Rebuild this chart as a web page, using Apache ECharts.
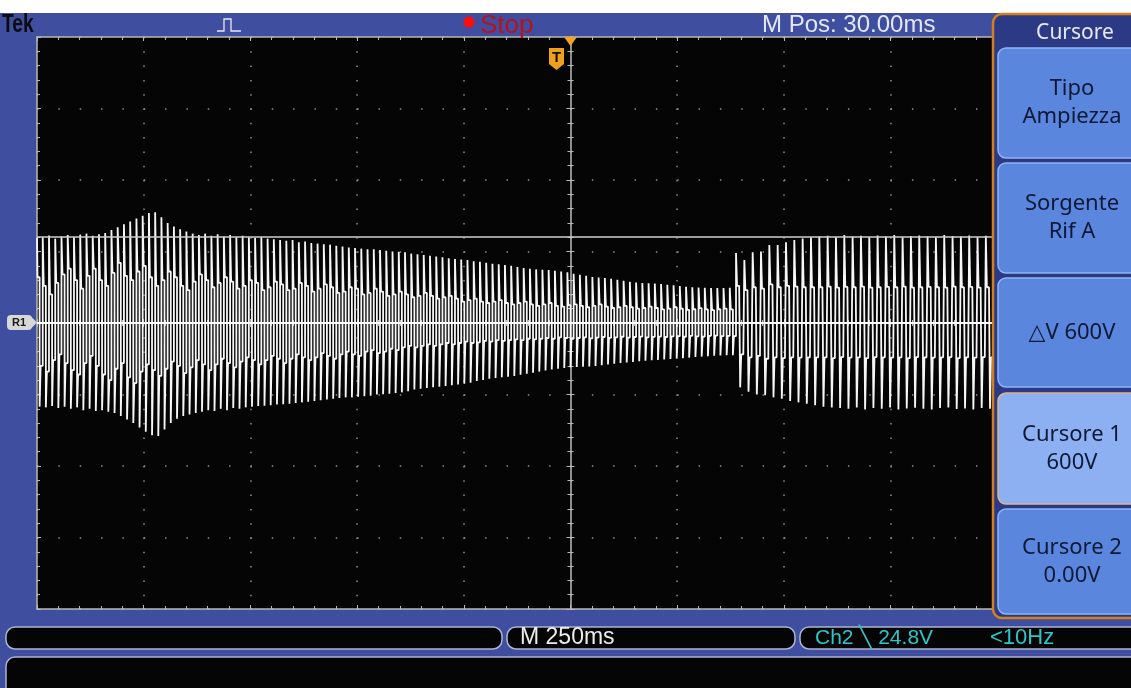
<!DOCTYPE html>
<html>
<head>
<meta charset="utf-8">
<script src="https://cdn.jsdelivr.net/npm/echarts@6/dist/echarts.min.js"></script>
<style>
html,body{margin:0;padding:0;background:#ffffff;}
#c{width:1131px;height:688px;}
</style>
</head>
<body>
<div id="c"></div>
<script>
// ---- Waveform data (per cycle, volts; Ref R1, 500 V/div, 250 ms/div) ----
// Section A: before the step (about 0 - 1.64 s on screen)
const posPeakA = [595,600,612,590,605,615,600,618,625,610,620,630,
 650,670,690,710,730,750,770,
 775,740,
 700,675,655,640,625,
 615,625,610,620,605,615,600,610,600,595,600,590,
 585,580,575,580,565,570,560,555,550,548,540,535,
 528,525,520,515,515,510,505,500,498,495,
 485,480,476,470,465,460,452,448,444,440,
 432,428,422,
 415,410,405,400,392,385,380,375,372,370,365,360,355,
 345,338,330,322,318,314,310,303,295,288,283,280,278,
 276,272,268,264,258,254,250,248,246,245,244,244,246];
const negPeakA = [-585,-590,-580,-595,-585,-600,-590,-610,-600,-615,-610,-620,
 -630,-650,-675,-700,-730,-760,-785,
 -790,-745,
 -700,-670,-650,-640,-630,
 -620,-610,-615,-600,-610,-595,-600,-590,-585,-580,-578,-575,
 -570,-568,-565,-560,-555,-550,-545,-540,-535,-530,-525,-520,
 -520,-515,-512,-508,-500,-498,-495,-490,-485,-478,
 -465,-460,-455,-450,-445,-440,-435,-430,-425,-418,
 -405,-398,-390,
 -385,-380,-376,-370,-362,-355,-348,-340,-332,-325,-320,-315,-310,
 -308,-306,-304,-300,-296,-290,-285,-280,-276,-272,-268,-264,-260,
 -258,-255,-252,-249,-246,-242,-238,-235,-232,-229,-227,-225,-226];
const posMidA = [320,260,200,280,340,380,300,240,330,380,300,260,
 350,420,330,300,360,400,320,
 260,300,
 360,320,260,230,290,
 340,300,250,280,320,290,240,260,300,280,230,250,
 290,270,230,240,280,260,220,240,270,250,210,220,
 250,240,200,210,240,220,190,200,220,200,
 180,190,210,190,170,180,190,170,150,160,
 170,150,140,
 150,160,140,130,140,150,130,120,130,140,120,115,125,
 130,120,110,120,130,115,105,110,120,110,100,105,115,
 105,95,100,110,100,92,96,104,95,90,96,100,95];
const negMidA = [-300,-340,-260,-220,-280,-330,-360,-280,-230,-300,-360,-400,
 -320,-280,-380,-420,-340,-290,-330,
 -370,-320,
 -270,-300,-350,-310,-260,
 -290,-330,-290,-250,-280,-310,-270,-240,-260,-290,-260,-230,
 -250,-280,-250,-220,-240,-260,-240,-210,-230,-250,-220,-200,
 -220,-230,-200,-190,-210,-200,-180,-190,-170,-160,
 -170,-160,-150,-160,-150,-140,-150,-140,-130,-140,
 -135,-125,-130,
 -120,-125,-120,-115,-120,-110,-115,-110,-105,-110,-100,-105,-110,
 -105,-100,-108,-102,-98,-104,-100,-96,-102,-98,-95,-100,-97,
 -95,-98,-94,-92,-96,-90,-93,-95,-90,-88,-92,-90,-92];

// Section B: after the step (to the right edge of the visible screen)
const posPeakB = [490,440,495,500,545,545,565,580,590,600,
 605,610,600,615,605,610,600,612,605,615,
 600,608,612,605,600,615,608,605,612,600,610];
const negPeakB = [-450,-480,-500,-505,-520,-530,-545,-555,-565,-575,
 -585,-590,-595,-600,-590,-605,-595,-600,-590,-605,
 -598,-592,-600,-605,-595,-590,-602,-598,-605,-595,-600];
const posMidB = [260,230,250,240,270,250,260,255,250,250,
 250,255,248,252,250,255,248,250,252,250,
 255,248,250,252,250,248,255,250,252,248,250];
const negMidB = [-220,-240,-230,-250,-240,-245,-240,-242,-240,-240,
 -240,-245,-238,-242,-240,-245,-238,-240,-242,-240,
 -245,-238,-240,-242,-240,-238,-245,-240,-242,-238,-240];

// Cursors (volts)
const cursor1 = 600;
const cursor2 = 0;

// Screen texts
const topTexts = { brand: 'Tek', state: 'Stop', mpos: 'M Pos: 30.00ms' };
const menuTitle = 'Cursore';
const menuButtons = [
  ['Tipo', 'Ampiezza'],
  ['Sorgente', 'Rif A'],
  ['\u25B3V 600V'],
  ['Cursore 1', '600V'],
  ['Cursore 2', '0.00V']
];
const bottomTexts = { timebase: 'M 250ms', trig: 'Ch2 \u2572 24.8V', freq: '<10Hz' };

// ---- build sample table for the library ----
const SCREEN_SAMPLES = 1026; // samples across the full 10-division record
const categories = [];
for (let i = 0; i < SCREEN_SAMPLES; i++) categories.push(i);
const samples = [];
for (let k = 0; k < posPeakA.length; k++) {
  samples.push(posPeakA[k], posMidA[k], posMidA[k], negPeakA[k], negMidA[k], negMidA[k]);
}
for (let k = 0; k < posPeakB.length; k++) {
  samples.push(posPeakB[k], posMidB[k], posMidB[k], posMidB[k], negPeakB[k], negMidB[k], negMidB[k], negMidB[k]);
}

const FONT_UI = "'Liberation Sans', Arial, sans-serif";
const FONT_MENU = "'Noto Sans', 'DejaVu Sans', sans-serif";
const BG = '#3f4e9e';
const DOT = '#8e8e8e';
const BORDER = '#b8b8b8';

function tickAxisX(extra) {
  return Object.assign({
    type: 'value', min: -5, max: 5, interval: 1, gridIndex: 0,
    axisLabel: { show: false },
    splitLine: { show: false },
    axisTick: { show: true, inside: true, length: 4, lineStyle: { color: BORDER, width: 1 } },
    minorTick: { show: true, splitNumber: 5, length: 3, lineStyle: { color: BORDER, width: 1 } }
  }, extra);
}
function tickAxisY(extra) {
  return Object.assign({
    type: 'value', min: -4, max: 4, interval: 1, gridIndex: 0,
    axisLabel: { show: false },
    splitLine: { show: false },
    axisTick: { show: true, inside: true, length: 4, lineStyle: { color: BORDER, width: 1 } },
    minorTick: { show: true, splitNumber: 5, length: 3, lineStyle: { color: BORDER, width: 1 } }
  }, extra);
}

// ---- decorations (screen chrome) ----
const g = [];
const Z = 100;
g.push({ type: 'rect', z: Z, shape: { x: 0, y: 0, width: 1131, height: 13 }, style: { fill: '#ffffff' } });
g.push({ type: 'text', z: Z, x: 2, y: 25, scaleX: 0.74,
  style: { text: topTexts.brand, font: 'bold 26px ' + FONT_UI, fill: '#0b0b12', textAlign: 'left', textVerticalAlign: 'middle' } });
g.push({ type: 'polyline', z: Z, shape: { points: [[217, 31], [224, 31], [224, 19], [231, 19], [231, 31], [241, 31]] },
  style: { stroke: '#e8e8f0', lineWidth: 1.3, fill: null } });
g.push({ type: 'circle', z: Z, shape: { cx: 469, cy: 22, r: 5.5 }, style: { fill: '#ff0c0c' } });
g.push({ type: 'text', z: Z, x: 480, y: 26,
  style: { text: topTexts.state, font: '26px ' + FONT_UI, fill: '#b5131e', textAlign: 'left', textVerticalAlign: 'middle' } });
g.push({ type: 'text', z: Z, x: 762, y: 25,
  style: { text: topTexts.mpos, font: '24px ' + FONT_UI, fill: '#e4e8f4', textAlign: 'left', textVerticalAlign: 'middle' } });

// trigger markers
g.push({ type: 'polygon', z: Z, shape: { points: [[564, 37], [577, 37], [570.5, 46]] }, style: { fill: '#f4a41e' } });
g.push({ type: 'polygon', z: Z, shape: { points: [[549, 48], [564, 48], [564, 64], [556.5, 70], [549, 64]] }, style: { fill: '#f0a01c' } });
g.push({ type: 'text', z: Z, x: 556.5, y: 58,
  style: { text: 'T', font: 'bold 15px ' + FONT_UI, fill: '#111111', textAlign: 'center', textVerticalAlign: 'middle' } });

// R1 marker
g.push({ type: 'rect', z: Z, shape: { x: 7, y: 315, width: 25, height: 15, r: 4 }, style: { fill: '#d8d8d8' } });
g.push({ type: 'polygon', z: Z, shape: { points: [[30, 315.5], [37, 322.5], [30, 329.5]] }, style: { fill: '#d8d8d8' } });
g.push({ type: 'text', z: Z, x: 19, y: 323,
  style: { text: 'R1', font: 'bold 11px ' + FONT_UI, fill: '#1a1a1a', textAlign: 'center', textVerticalAlign: 'middle' } });

// bottom bars
const barStroke = '#aab4d8';
g.push({ type: 'rect', z: Z, shape: { x: 6, y: 627, width: 496, height: 22, r: 9 }, style: { fill: '#050505', stroke: barStroke, lineWidth: 1.5 } });
g.push({ type: 'rect', z: Z, shape: { x: 507, y: 627, width: 288, height: 22, r: 9 }, style: { fill: '#050505', stroke: barStroke, lineWidth: 1.5 } });
g.push({ type: 'rect', z: Z, shape: { x: 800, y: 627, width: 340, height: 22, r: 9 }, style: { fill: '#050505', stroke: barStroke, lineWidth: 1.5 } });
g.push({ type: 'rect', z: Z, shape: { x: 6, y: 657, width: 1134, height: 40, r: 9 }, style: { fill: '#050505', stroke: barStroke, lineWidth: 1.5 } });
g.push({ type: 'text', z: Z, x: 520, y: 638,
  style: { text: bottomTexts.timebase, font: '23px ' + FONT_UI, fill: '#ececec', textAlign: 'left', textVerticalAlign: 'middle' } });
g.push({ type: 'text', z: Z, x: 815, y: 638,
  style: { text: bottomTexts.trig, font: '21px ' + FONT_UI, fill: '#2ec6c8', textAlign: 'left', textVerticalAlign: 'middle' } });
g.push({ type: 'text', z: Z, x: 990, y: 638,
  style: { text: bottomTexts.freq, font: '22px ' + FONT_UI, fill: '#2ec6c8', textAlign: 'left', textVerticalAlign: 'middle' } });

// right menu
g.push({ type: 'rect', z: Z, shape: { x: 993, y: 14, width: 145, height: 604, r: [9, 0, 0, 9] }, style: { fill: '#2c3a86', stroke: '#d47e1c', lineWidth: 2.5 } });
g.push({ type: 'text', z: Z, x: 1075, y: 33,
  style: { text: menuTitle, font: '21px ' + FONT_MENU, fill: '#e6eaf6', textAlign: 'center', textVerticalAlign: 'middle' } });
const btnBoxes = [[48, 110], [163, 110], [278, 109], [393, 111], [509, 105]];
menuButtons.forEach(function (lines, i) {
  const b = btnBoxes[i];
  const active = i === 3;
  g.push({ type: 'rect', z: Z, shape: { x: 998, y: b[0], width: 140, height: b[1], r: [8, 0, 0, 8] },
    style: { fill: active ? '#8db0f2' : '#5a86de', stroke: active ? '#e2b587' : '#8fb5f4', lineWidth: 1.5 } });
  const cy = b[0] + b[1] / 2;
  const lh = 28;
  lines.forEach(function (t, j) {
    const y = cy + (j - (lines.length - 1) / 2) * lh;
    g.push({ type: 'text', z: Z, x: 1072, y: y,
      style: { text: t, font: '22px ' + FONT_MENU, fill: '#0d1836', textAlign: 'center', textVerticalAlign: 'middle' } });
  });
});

const option = {
  animation: false,
  backgroundColor: BG,
  grid: { left: 37, top: 37, width: 1067, height: 572, show: true, backgroundColor: '#050505', borderWidth: 0 },
  xAxis: [
    { type: 'category', data: categories, boundaryGap: false, show: false, gridIndex: 0 },
    tickAxisX({ position: 'top',
      axisLine: { show: true, onZero: false, lineStyle: { color: BORDER, width: 1.5 } },
      splitLine: { show: true, lineStyle: { color: DOT, width: 1.5, type: [1.5, 12.8] } } }),
    tickAxisX({ position: 'bottom', axisLine: { show: false, onZero: true, onZeroAxisIndex: 1 } }),
    tickAxisX({ position: 'bottom', axisLine: { show: false, onZero: true, onZeroAxisIndex: 1 },
      axisTick: { show: true, inside: false, length: 4, lineStyle: { color: BORDER } },
      minorTick: { show: true, splitNumber: 5, length: 3, lineStyle: { color: BORDER } } }),
    tickAxisX({ position: 'bottom', axisLine: { show: true, onZero: false, lineStyle: { color: BORDER, width: 1.5 } } })
  ],
  yAxis: [
    { type: 'value', min: -2000, max: 2000, show: false, gridIndex: 0 },
    tickAxisY({ position: 'left',
      axisLine: { show: true, onZero: false, lineStyle: { color: BORDER, width: 1.5 } },
      splitLine: { show: true, lineStyle: { color: DOT, width: 1.5, type: [1.5, 19.84] } } }),
    tickAxisY({ position: 'left', axisLine: { show: true, onZero: true, onZeroAxisIndex: 1, lineStyle: { color: '#bdbdbd', width: 1.5 } } }),
    tickAxisY({ position: 'left', axisLine: { show: false, onZero: true, onZeroAxisIndex: 1 },
      axisTick: { show: true, inside: false, length: 4, lineStyle: { color: BORDER } },
      minorTick: { show: true, splitNumber: 5, length: 3, lineStyle: { color: BORDER } } })
  ],
  series: [{
    type: 'line',
    xAxisIndex: 0, yAxisIndex: 0,
    data: samples,
    step: 'middle',
    symbol: 'none',
    sampling: null,
    lineStyle: { color: '#f6f6f6', width: 1.8 },
    markLine: {
      silent: true, symbol: 'none', label: { show: false }, animation: false,
      data: [
        { yAxis: cursor1, lineStyle: { color: '#cfcfcf', width: 1.6, type: 'solid' } },
        { yAxis: cursor2, lineStyle: { color: '#ffffff', width: 2, type: 'solid' } }
      ]
    }
  }],
  graphic: { elements: g }
};

const chart = echarts.init(document.getElementById('c'), null, { renderer: 'canvas', width: 1131, height: 688 });
chart.setOption(option);
</script>
</body>
</html>
